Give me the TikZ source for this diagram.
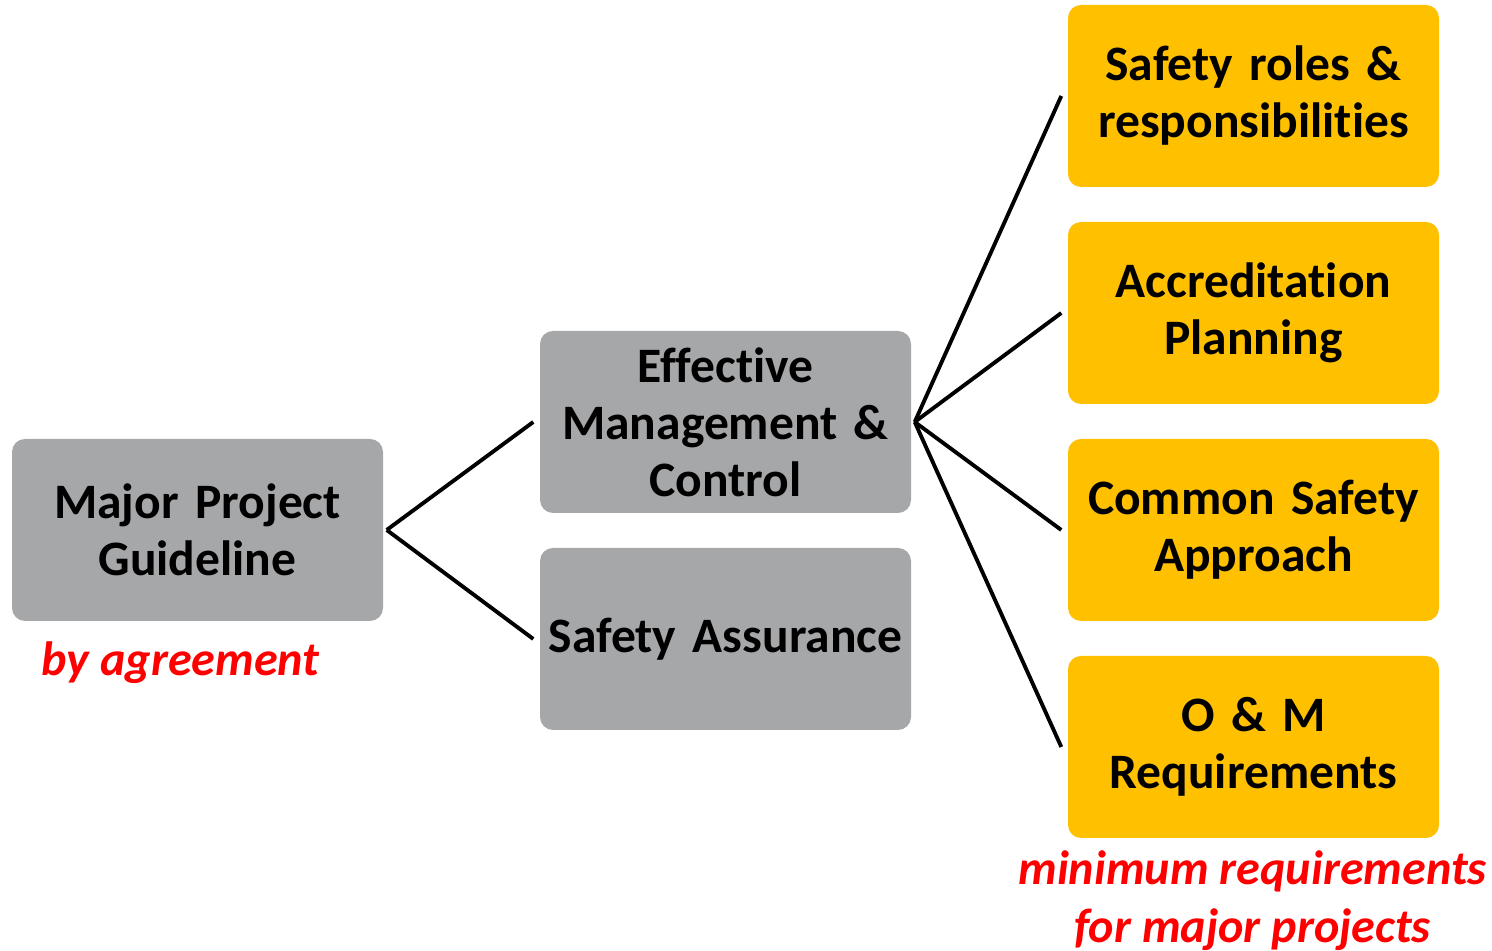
\documentclass[tikz,border=0pt]{standalone}
\usepackage{fontspec}
\setmainfont{Carlito}[Ligatures=NoCommon]
\usepackage{tikz}
\usetikzlibrary{positioning}
\definecolor{boxgrey}{HTML}{A6A7A9}
\definecolor{boxamber}{HTML}{FFC000}
\definecolor{notered}{HTML}{FF0000}
\tikzstyle{line} = [line width=1.1pt, black]
\tikzset{
	greybox/.style = {rectangle, rounded corners=0.13cm, fill=boxgrey,
		minimum width=3.71cm, minimum height=1.82cm, inner sep=0.5pt,
		text width=3.65cm, align=center,
		font=\fontsize{14.1}{16.2}\selectfont\bfseries},
	amberbox/.style = {greybox, fill=boxamber},
	note/.style = {text=notered, align=center,
		font=\fontsize{13.7}{16.5}\selectfont\bfseries\itshape}
}

\begin{document}
\begin{tikzpicture}[node distance=2.17cm]
\useasboundingbox (0,0) rectangle (14.92,9.51);
%----------------------------------------------------------------------------
% Boxes
\node (major) [greybox] at (1.975,4.21) {Major Project\\Guideline};

\node (emc) [greybox] at (7.255,5.29) {Effective\\Management \&\\Control};
\node (assure) [greybox, below of = emc] {Safety Assurance};

\node (roles) [amberbox] at (12.535,8.55) {Safety roles \&\\responsibilities};
\node (accred) [amberbox, below of = roles] {Accreditation\\Planning};
\node (common) [amberbox, below of = accred] {Common Safety\\Approach};
\node (om) [amberbox, below of = common] {O \& M\\Requirements};

%----------------------------------------------------------------------------
% Draw lines
\draw [line] ([xshift=0.03cm]major.east) -- ([xshift=-0.06cm]emc.west);
\draw [line] ([xshift=0.03cm]major.east) -- ([xshift=-0.06cm]assure.west);

\draw [line] ([xshift=0.03cm]emc.east) -- ([xshift=-0.06cm]roles.west);
\draw [line] ([xshift=0.03cm]emc.east) -- ([xshift=-0.06cm]accred.west);
\draw [line] ([xshift=0.03cm]emc.east) -- ([xshift=-0.06cm]common.west);
\draw [line] ([xshift=0.03cm]emc.east) -- ([xshift=-0.06cm]om.west);

%----------------------------------------------------------------------------
% Notes
\node (agree) [note, below = 0.08cm of major, xshift=-0.17cm] {by agreement};
\node (minreq) [note, below = 0.0cm of om, xshift=-0.01cm] {minimum requirements\\for major projects};

\end{tikzpicture}
\end{document}
